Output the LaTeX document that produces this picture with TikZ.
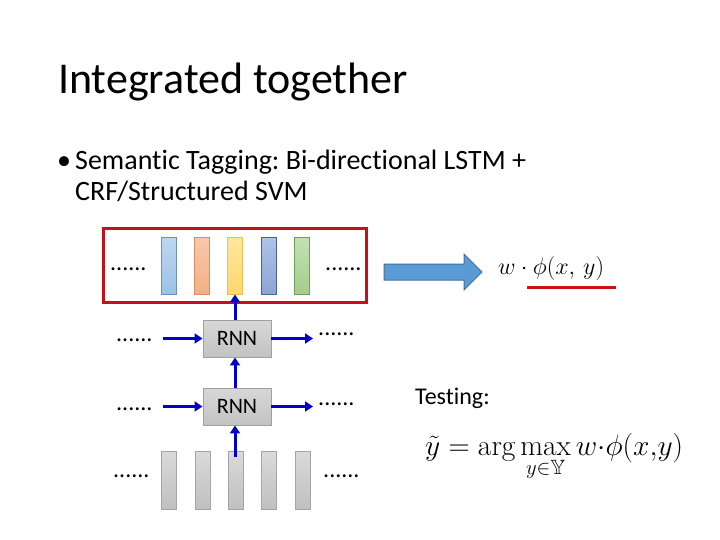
\RequirePackage{fix-cm}
\documentclass[tikz,border=0pt]{standalone}
\usepackage{fontspec}
\usepackage{amsmath,amssymb}
\newfontfamily\calibri[Ligatures=NoCommon]{Carlito}
\usetikzlibrary{arrows.meta,calc}
\definecolor{arrowblue}{RGB}{0,0,204}
\definecolor{boxred}{RGB}{200,16,24}
\definecolor{bigblue}{RGB}{91,155,213}
\definecolor{bigblueedge}{RGB}{65,113,156}
\definecolor{grayedge}{RGB}{165,165,165}
\definecolor{graytop}{RGB}{218,218,218}
\definecolor{graybot}{RGB}{192,192,192}
\definecolor{rnnedge}{RGB}{160,160,160}
\definecolor{rnntop}{RGB}{215,215,215}
\definecolor{rnnbot}{RGB}{195,195,195}
\definecolor{bAe}{RGB}{110,145,185}\definecolor{bAt}{RGB}{190,215,240}\definecolor{bAb}{RGB}{155,195,230}
\definecolor{bBe}{RGB}{220,140,100}\definecolor{bBt}{RGB}{248,200,175}\definecolor{bBb}{RGB}{244,175,130}
\definecolor{bCe}{RGB}{230,195,80}\definecolor{bCt}{RGB}{255,230,160}\definecolor{bCb}{RGB}{255,215,110}
\definecolor{bDe}{RGB}{70,100,150}\definecolor{bDt}{RGB}{175,195,230}\definecolor{bDb}{RGB}{140,165,215}
\definecolor{bEe}{RGB}{110,160,90}\definecolor{bEt}{RGB}{195,225,180}\definecolor{bEb}{RGB}{165,205,140}
\frenchspacing
\begin{document}
\begin{tikzpicture}[x=1pt,y=-1pt,
  bar/.style={draw, line width=0.9pt, minimum width=15pt, minimum height=57pt, inner sep=0pt},
  graybar/.style={bar, draw=grayedge, top color=graytop, bottom color=graybot, minimum height=58pt},
  rnnbox/.style={draw=rnnedge, line width=0.9pt, top color=rnntop, bottom color=rnnbot, minimum width=68pt, minimum height=37pt, inner sep=0pt, font=\calibri\fontsize{22}{26}\selectfont},
  dotstext/.style={anchor=base west, inner sep=0pt, font=\calibri\fontsize{24}{28}\selectfont},
  arr/.style={arrowblue, line width=3pt, -{Triangle[width=10pt,length=8pt]}}]
\useasboundingbox (0,0) rectangle (720,540);
\fill[white] (0,0) rectangle (720,540);
% title and bullet
\node[anchor=base west, inner sep=0pt, font=\calibri\fontsize{44}{52}\selectfont] (title) at (58,94) {Integrated together};
\node[anchor=base west, inner sep=0pt, font=\calibri\fontsize{28}{32}\selectfont] (bullet) at (57,170) {•};
\node[anchor=base west, inner sep=0pt, font=\calibri\fontsize{28}{32}\selectfont] (line1) at (75,170) {Semantic Tagging: Bi-directional LSTM +};
\node[anchor=base west, inner sep=0pt, font=\calibri\fontsize{28}{32}\selectfont] (line2) at (75,201) {CRF/Structured SVM};
% red box with colored bars
\node[draw=boxred, line width=3pt, minimum width=263pt, minimum height=73pt, inner sep=0pt] (redbox) at (234.5,265.5) {};
\node[bar, draw=bAe, top color=bAt, bottom color=bAb] (b1) at (168.5,265.5) {};
\node[bar, draw=bBe, top color=bBt, bottom color=bBb] (b2) at (201.5,265.5) {};
\node[bar, draw=bCe, top color=bCt, bottom color=bCb] (b3) at (235,265.5) {};
\node[bar, draw=bDe, top color=bDt, bottom color=bDb] (b4) at (268.5,265.5) {};
\node[bar, draw=bEe, top color=bEt, bottom color=bEb] (b5) at (301.5,265.5) {};
\node[dotstext] (d1l) at (110,270) {......};
\node[dotstext] (d1r) at (325,270) {......};
% big arrow
\draw[fill=bigblue, draw=bigblueedge, line width=1pt] (384,264) -- (464,264) -- (464,254) -- (482,272) -- (464,290) -- (464,280) -- (384,280) -- cycle;
\node[anchor=base west, inner sep=0pt, font=\fontsize{24}{28}\selectfont] (wphi) at (498,274) {$w\cdot\phi(x,\,y)$};
\coordinate (ul1) at (527,287);
\coordinate (ul2) at (616,287);
\draw[boxred, line width=3pt] (ul1) -- (ul2);
% RNN boxes
\node[rnnbox] (rnn1) at (237,338.5) {RNN};
\node[rnnbox] (rnn2) at (237,406.5) {RNN};
\node[dotstext] (d2l) at (116,341) {......};
\node[dotstext] (d2r) at (318,335) {......};
\node[dotstext] (d3l) at (116,410) {......};
\node[dotstext] (d3r) at (318,405) {......};
\coordinate (l1) at (163,338.5);
\coordinate (r1) at (313,338.5);
\coordinate (l2) at (163,406.5);
\coordinate (r2) at (313,406.5);
\draw[arr] (l1) -- (rnn1.west);
\draw[arr] (rnn1.east) -- (r1);
\draw[arr] (l2) -- (rnn2.west);
\draw[arr] (rnn2.east) -- (r2);
% bottom gray bars
\node[graybar] (g1) at (169,480) {};
\node[graybar] (g2) at (202.5,480) {};
\node[graybar] (g3) at (235.5,480) {};
\node[graybar] (g4) at (268.5,480) {};
\node[graybar] (g5) at (302.5,480) {};
\node[dotstext] (d4l) at (113,477) {......};
\node[dotstext] (d4r) at (323,477) {......};
% vertical arrows
\coordinate (gstart) at (235,457);
\draw[arr] (gstart) -- (rnn2.south -| gstart);
\draw[arr] (rnn2.north -| gstart) -- (rnn1.south -| gstart);
\draw[arr] (rnn1.north -| gstart) -- (b3.south);
% testing
\node[anchor=base west, inner sep=0pt, font=\calibri\fontsize{24}{28}\selectfont] (testing) at (415,404) {Testing:};
\node[anchor=base west, inner sep=0pt, font=\fontsize{29.5}{34}\selectfont] (formula) at (425,455) {$\displaystyle \tilde{y}=\arg\max_{y\in\mathbb{Y}} w{\cdot}\phi(x{,}y)$};
\end{tikzpicture}
\end{document}
